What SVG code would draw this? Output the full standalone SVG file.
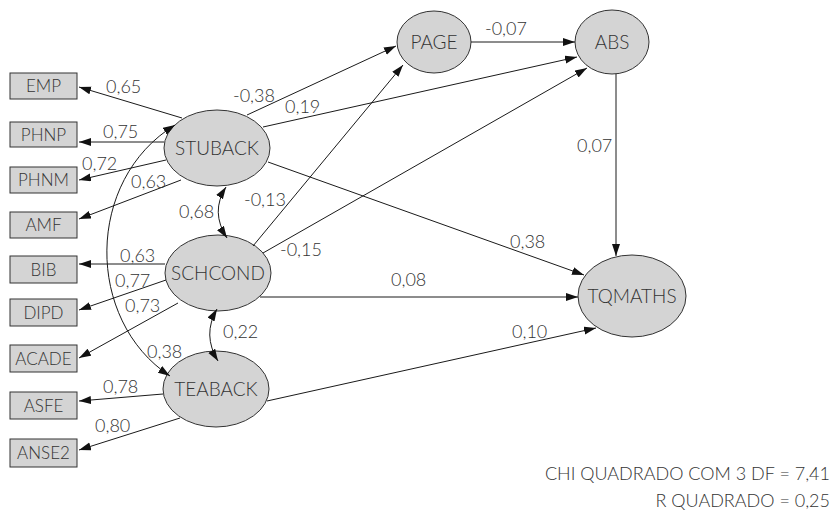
<svg xmlns="http://www.w3.org/2000/svg" width="834" height="520" viewBox="0 0 834 520">
  <style>
    .box { fill: #d4d4d4; stroke: #333; stroke-width: 1; }
    .lat { fill: #d4d4d4; stroke: #333; stroke-width: 1; }
    .lbl { font-family: Lato, "Open Sans", "Liberation Sans", sans-serif; font-weight: 300; fill: #333; }
    .name { font-size: 19px; text-anchor: middle; }
    .obs { font-size: 17px; text-anchor: middle; }
    .coef { font-size: 18px; }
    .note { font-size: 18px; text-anchor: end; }
    .edge { fill: none; stroke: #1a1a1a; stroke-width: 1; marker-end: url(#arr); }
    .cov { fill: none; stroke: #1a1a1a; stroke-width: 1; marker-start: url(#arr); marker-end: url(#arr); }
  </style>
  <defs>
    <marker id="arr" markerUnits="userSpaceOnUse" markerWidth="13" markerHeight="9" refX="12" refY="4" orient="auto-start-reverse">
      <path d="M0,0 L12,4 L0,8 z" fill="#111"/>
    </marker>
  </defs>
  <rect width="834" height="520" fill="#fff"/>

  <!-- observed indicators -->
  <g id="EMP"><rect class="box" x="10" y="73" width="67" height="26"/><text class="lbl obs" x="43.5" y="92">EMP</text></g>
  <g id="PHNP"><rect class="box" x="10" y="122" width="67" height="25"/><text class="lbl obs" x="43.5" y="140.5">PHNP</text></g>
  <g id="PHNM"><rect class="box" x="10" y="167" width="67" height="26"/><text class="lbl obs" x="43.5" y="186">PHNM</text></g>
  <g id="AMF"><rect class="box" x="10" y="212" width="67" height="26"/><text class="lbl obs" x="43.5" y="231">AMF</text></g>
  <g id="BIB"><rect class="box" x="10" y="256" width="67" height="27"/><text class="lbl obs" x="43.5" y="275.5">BIB</text></g>
  <g id="DIPD"><rect class="box" x="10" y="299" width="67" height="27"/><text class="lbl obs" x="43.5" y="318.5">DIPD</text></g>
  <g id="ACADE"><rect class="box" x="10" y="345" width="67" height="27"/><text class="lbl obs" x="43.5" y="364.5">ACADE</text></g>
  <g id="ASFE"><rect class="box" x="10" y="392" width="67" height="27"/><text class="lbl obs" x="43.5" y="411.5">ASFE</text></g>
  <g id="ANSE2"><rect class="box" x="10" y="439" width="67" height="28"/><text class="lbl obs" x="43.5" y="459">ANSE2</text></g>

  <!-- latent variables -->
  <g id="STUBACK"><ellipse class="lat" cx="217" cy="148" rx="53" ry="38"/><text class="lbl name" x="217" y="154.5">STUBACK</text></g>
  <g id="SCHCOND"><ellipse class="lat" cx="218" cy="273" rx="53" ry="38"/><text class="lbl name" x="218" y="279.5">SCHCOND</text></g>
  <g id="TEABACK"><ellipse class="lat" cx="216" cy="389" rx="53" ry="38"/><text class="lbl name" x="216" y="395.5">TEABACK</text></g>
  <g id="PAGE"><ellipse class="lat" cx="434" cy="42" rx="37" ry="31"/><text class="lbl name" x="434" y="48.5">PAGE</text></g>
  <g id="ABS"><ellipse class="lat" cx="612" cy="42" rx="37" ry="32"/><text class="lbl name" x="612" y="48.5">ABS</text></g>
  <g id="TQMATHS"><ellipse class="lat" cx="632" cy="296" rx="54" ry="41"/><text class="lbl name" x="632" y="302.5">TQMATHS</text></g>

  <!-- connectors, drawn over the nodes so the correlation heads stay visible -->
  <g id="connectors">
    <!-- measurement paths -->
    <path class="edge" d="M182,118 L79,87"/>
    <path class="edge" d="M164,142 L79,142"/>
    <path class="edge" d="M166,160 L79,180"/>
    <path class="edge" d="M181,180 L79,219"/>
    <path class="edge" d="M165,264 L79,264"/>
    <path class="edge" d="M166,280 L79,310"/>
    <path class="edge" d="M178,303 L79,358"/>
    <path class="edge" d="M163,394 L79,401"/>
    <path class="edge" d="M180,418 L79,450"/>
    <!-- structural paths -->
    <path class="edge" d="M247,115 L396,46"/>
    <path class="edge" d="M253,246 L403,65"/>
    <path class="edge" d="M263,127 L577,57"/>
    <path class="edge" d="M263,253 L587,68"/>
    <path class="edge" d="M471,42 L575,42"/>
    <path class="edge" d="M616,74 L616,256"/>
    <path class="edge" d="M268,162 L584,275"/>
    <path class="edge" d="M260,297 L578,297"/>
    <path class="edge" d="M267,401 L596,328"/>
    <!-- correlations -->
    <path class="cov" d="M226,187 Q210,212 227,238"/>
    <path class="cov" d="M217,309 Q202,335 218,361"/>
    <path class="cov" d="M175,125 C85,180 85,320 170,376"/>
  </g>

  <!-- coefficients -->
  <g id="coefficients" class="lbl coef">
    <text x="106" y="93">0,65</text>
    <text x="103" y="138">0,75</text>
    <text x="82" y="170">0,72</text>
    <text x="131" y="188">0,63</text>
    <text x="179" y="218">0,68</text>
    <text x="120" y="262">0,63</text>
    <text x="115" y="287">0,77</text>
    <text x="125" y="312">0,73</text>
    <text x="223" y="338">0,22</text>
    <text x="147" y="358">0,38</text>
    <text x="103" y="393">0,78</text>
    <text x="95" y="432">0,80</text>
    <text x="233" y="102">-0,38</text>
    <text x="285" y="113">0,19</text>
    <text x="244" y="206">-0,13</text>
    <text x="280" y="256">-0,15</text>
    <text x="485" y="35">-0,07</text>
    <text x="577" y="152">0,07</text>
    <text x="510" y="248">0,38</text>
    <text x="391" y="286">0,08</text>
    <text x="512" y="338">0,10</text>
  </g>

  <!-- fit statistics -->
  <g id="fit" class="lbl note">
    <text x="830" y="480">CHI QUADRADO COM 3 DF = 7,41</text>
    <text x="830" y="507">R QUADRADO = 0,25</text>
  </g>
</svg>
